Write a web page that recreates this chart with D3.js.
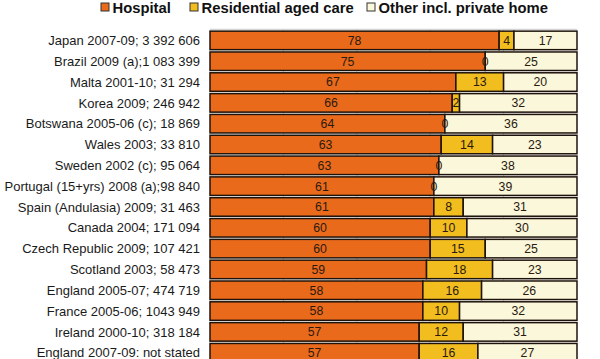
<!DOCTYPE html>
<html><head><meta charset="utf-8">
<script src="https://cdn.jsdelivr.net/npm/d3@7"></script>
<style>body{margin:0;background:#fff}svg{display:block}</style>
</head><body>
<svg id="c" width="600" height="359"></svg>
<script>
const categories = [
  "Japan 2007-09; 3 392 606",
  "Brazil 2009 (a);1 083 399",
  "Malta 2001-10; 31 294",
  "Korea 2009; 246 942",
  "Botswana 2005-06 (c); 18 869",
  "Wales 2003; 33 810",
  "Sweden 2002 (c); 95 064",
  "Portugal (15+yrs) 2008 (a);98 840",
  "Spain (Andulasia) 2009; 31 463",
  "Canada 2004; 171 094",
  "Czech Republic 2009; 107 421",
  "Scotland 2003; 58 473",
  "England 2005-07; 474 719",
  "France 2005-06; 1043 949",
  "Ireland 2000-10; 318 184",
  "England 2007-09: not stated"
];
const hospital    = [78,75,67,66,64,63,63,61,61,60,60,59,58,58,57,57];
const residential = [4,0,13,2,0,14,0,0,8,10,15,18,16,10,12,16];
const other       = [17,25,20,32,36,23,38,39,31,30,25,23,26,32,31,27];
const seriesNames = ["Hospital","Residential aged care","Other incl. private home"];
const gridTicks = [20,40,60,80];

const colors = ["#ea6a1c","#f2bd1e","#fbf7da"];
const keys = ["h","r","o"];
const rows = categories.map((c,i)=>({cat:c,h:hospital[i],r:residential[i],o:other[i]}));

const svg = d3.select("#c");
const step = 20.82, n = categories.length, p = 0.11;
const y = d3.scaleBand().domain(categories)
  .range([30.0, 30.0 + step*n]).paddingInner(p).paddingOuter(p/2);
const x = d3.scaleLinear().domain([0,1]).range([210, 577]);

svg.append("line").attr("x1",210).attr("x2",577).attr("y1",29.3).attr("y2",29.3)
  .attr("stroke","#c8c8c8").attr("stroke-width",1);
svg.append("g").selectAll("line").data(gridTicks).join("line")
  .attr("x1",d=>x(d/100)).attr("x2",d=>x(d/100))
  .attr("y1",29.3).attr("y2",359)
  .attr("stroke","#cfcfcf").attr("stroke-width",1);

const stack = d3.stack().keys(keys).offset(d3.stackOffsetExpand);
const series = stack(rows);

const g = svg.append("g");
series.forEach((s,si)=>{
  g.append("g").selectAll("rect").data(s).join("rect")
    .attr("x",d=>x(d[0]))
    .attr("y",d=>y(d.data.cat))
    .attr("width",d=>Math.max(0,x(d[1])-x(d[0])))
    .attr("height",y.bandwidth())
    .attr("fill",colors[si])
    .attr("stroke","#1e130b").attr("stroke-width",1.5);
});
series.forEach((s,si)=>{
  g.append("g").selectAll("text").data(s).join("text")
    .attr("x",d=>(x(d[0])+x(d[1]))/2)
    .attr("y",d=>y(d.data.cat)+y.bandwidth()/2)
    .attr("dy","0.36em")
    .attr("text-anchor","middle")
    .attr("font-family","Liberation Sans, Arial, sans-serif")
    .attr("font-size",12.3)
    .attr("fill","#2a1a10")
    .text(d=>d.data[keys[si]]);
});

svg.append("g").selectAll("text").data(categories).join("text")
  .attr("x",200).attr("y",d=>y(d)+y.bandwidth()/2).attr("dy","0.36em")
  .attr("text-anchor","end")
  .attr("font-family","Liberation Sans, Arial, sans-serif")
  .attr("font-size",13).attr("fill","#1a1a1a")
  .text(d=>d);

const legX = [101,190,367];
const lg = svg.append("g");
seriesNames.forEach((nm,i)=>{
  lg.append("rect").attr("x",legX[i]).attr("y",3).attr("width",8).attr("height",8)
    .attr("fill",colors[i]).attr("stroke","#333").attr("stroke-width",1);
  lg.append("text").attr("x",legX[i]+11.5).attr("y",13)
    .attr("font-family","Liberation Sans, Arial, sans-serif")
    .attr("font-weight","bold").attr("font-size",14.8).attr("fill","#111")
    .text(nm);
});
</script>
</body></html>
